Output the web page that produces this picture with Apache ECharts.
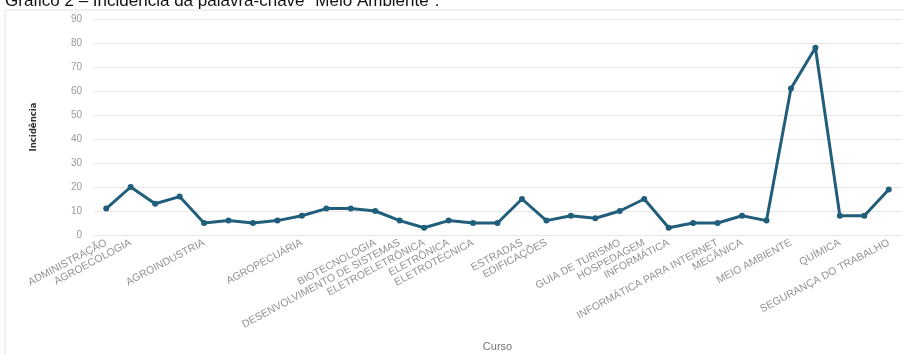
<!DOCTYPE html>
<html>
<head>
<meta charset="utf-8">
<script src="https://cdn.jsdelivr.net/npm/echarts@6/dist/echarts.min.js"></script>
<style>
  html, body { margin: 0; padding: 0; background: #fff; }
  #chart { width: 904px; height: 354px; }
</style>
</head>
<body>
<div id="chart"></div>
<script>
// one entry per point; a course name repeats when the course has several points
var cursos = [
  "ADMINISTRAÇÃO",
  "AGROECOLOGIA", "AGROECOLOGIA", "AGROECOLOGIA",
  "AGROINDUSTRIA", "AGROINDUSTRIA", "AGROINDUSTRIA", "AGROINDUSTRIA",
  "AGROPECUÁRIA", "AGROPECUÁRIA", "AGROPECUÁRIA",
  "BIOTECNOLOGIA",
  "DESENVOLVIMENTO DE SISTEMAS",
  "ELETROELETRÔNICA",
  "ELETRÔNICA",
  "ELETROTÉCNICA", "ELETROTÉCNICA",
  "ESTRADAS",
  "EDIFICAÇÕES", "EDIFICAÇÕES", "EDIFICAÇÕES",
  "GUIA DE TURISMO",
  "HOSPEDAGEM",
  "INFORMÁTICA", "INFORMÁTICA",
  "INFORMÁTICA PARA INTERNET",
  "MECÂNICA", "MECÂNICA",
  "MEIO AMBIENTE", "MEIO AMBIENTE",
  "QUÍMICA", "QUÍMICA",
  "SEGURANÇA DO TRABALHO"
];
var incidencia = [11, 20, 13, 16, 5, 6, 5, 6, 8, 11, 11, 10, 6, 3, 6, 5, 5, 15, 6, 8, 7, 10, 15, 3, 5, 5, 8, 6, 61, 78, 8, 8, 19];

var chart = echarts.init(document.getElementById('chart'));
chart.setOption({
  animation: false,
  backgroundColor: '#ffffff',
  title: {
    text: 'Gráfico 2 – Incidência da palavra-chave "Meio Ambiente".',
    left: 0,
    top: -12,
    textStyle: { color: '#111', fontSize: 17, fontWeight: 'normal', fontFamily: 'Liberation Sans' }
  },
  graphic: [{
    type: 'rect',
    shape: { x: 5, y: 10, width: 920, height: 360 },
    style: { fill: 'none', stroke: '#e2e2e2', lineWidth: 1 },
    silent: true
  }],
  grid: { left: 94, right: 3, top: 19, bottom: 119, outerBoundsMode: 'none', containLabel: false },
  xAxis: {
    type: 'category',
    boundaryGap: true,
    data: cursos,
    name: 'Curso',
    nameLocation: 'middle',
    nameGap: 106,
    nameTextStyle: { color: '#777', fontSize: 11, fontFamily: 'Liberation Sans' },
    axisLine: { show: false },
    axisTick: { show: false },
    axisLabel: {
      rotate: 28,
      margin: 7,
      color: '#929292',
      fontSize: 10.5,
      fontFamily: 'Liberation Sans',
      hideOverlap: false,
      showMinLabel: true,
      showMaxLabel: true,
      interval: function (idx) {
        return idx === 0 || cursos[idx] !== cursos[idx - 1];
      }
    }
  },
  yAxis: {
    type: 'value',
    min: 0,
    max: 90,
    interval: 10,
    name: 'Incidência',
    nameLocation: 'middle',
    nameGap: 55,
    nameTextStyle: { color: '#333', fontSize: 9.5, fontFamily: 'Liberation Sans Narrow, DejaVu Sans Condensed', fontWeight: 'bold' },
    axisLine: { show: false },
    axisTick: { show: false },
    axisLabel: { color: '#999', fontSize: 10, margin: 12, fontFamily: 'Liberation Sans' },
    splitLine: { lineStyle: { color: '#e6e6e6', width: 1 } }
  },
  series: [{
    type: 'line',
    data: incidencia,
    symbol: 'circle',
    symbolSize: 6,
    itemStyle: { color: '#215e7b' },
    lineStyle: { color: '#215e7b', width: 3 }
  }]
});
</script>
</body>
</html>
